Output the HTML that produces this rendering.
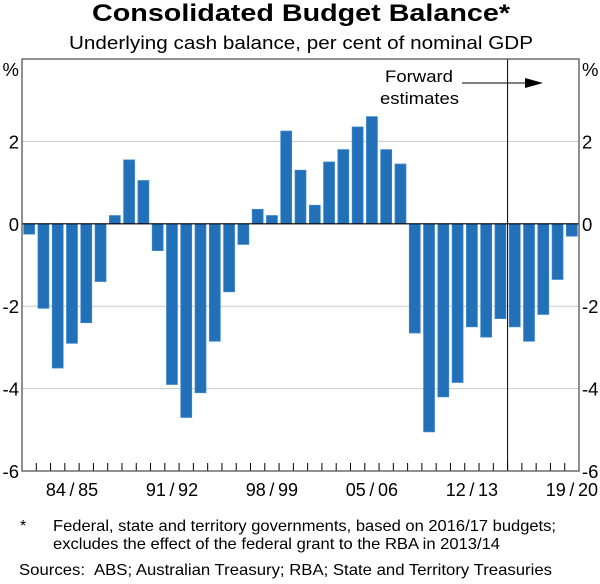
<!DOCTYPE html>
<html><head><meta charset="utf-8"><style>
body{margin:0;background:#fff;width:600px;height:579px;overflow:hidden;font-family:"Liberation Sans",Arial,sans-serif}
svg text{font-family:"Liberation Sans",Arial,sans-serif}
</style></head><body>
<svg id="chart" width="600" height="579" xmlns="http://www.w3.org/2000/svg">
<text x="92" y="21" font-size="24" font-weight="bold" textLength="418" lengthAdjust="spacingAndGlyphs">Consolidated Budget Balance*</text>
<text x="69" y="49" font-size="18.5" textLength="464" lengthAdjust="spacingAndGlyphs">Underlying cash balance, per cent of nominal GDP</text>
<g id="grid"></g><g id="bars"></g><g id="axes"></g>
<text x="385" y="82" font-size="17" textLength="68" lengthAdjust="spacingAndGlyphs">Forward</text>
<text x="380" y="104" font-size="17" textLength="79" lengthAdjust="spacingAndGlyphs">estimates</text>
<line x1="462" y1="83" x2="530" y2="83" stroke="#000" stroke-width="1"/>
<polygon points="543,83 525,78 525,88" fill="#000"/>
<text x="20" y="531" font-size="16">*</text>
<text x="53" y="531" font-size="16" textLength="503" lengthAdjust="spacingAndGlyphs">Federal, state and territory governments, based on 2016/17 budgets;</text>
<text x="53" y="549" font-size="16" textLength="447" lengthAdjust="spacingAndGlyphs">excludes the effect of the federal grant to the RBA in 2013/14</text>
<text x="19" y="575" font-size="16" textLength="66" lengthAdjust="spacingAndGlyphs">Sources:</text>
<text x="94" y="575" font-size="16" textLength="458" lengthAdjust="spacingAndGlyphs">ABS; Australian Treasury; RBA; State and Territory Treasuries</text>
</svg>
<script>
const categories=["81/82","82/83","83/84","84/85","85/86","86/87","87/88","88/89","89/90","90/91","91/92","92/93","93/94","94/95","95/96","96/97","97/98","98/99","99/00","00/01","01/02","02/03","03/04","04/05","05/06","06/07","07/08","08/09","09/10","10/11","11/12","12/13","13/14","14/15","15/16","16/17","17/18","18/19","19/20"];
const values=[-0.25,-2.05,-3.5,-2.9,-2.4,-1.4,0.2,1.55,1.05,-0.65,-3.9,-4.7,-4.1,-2.85,-1.65,-0.5,0.35,0.2,2.25,1.3,0.45,1.5,1.8,2.35,2.6,1.8,1.45,-2.65,-5.05,-4.2,-3.85,-2.5,-2.75,-2.3,-2.5,-2.85,-2.2,-1.35,-0.3];
const yTicks=[-6,-4,-2,0,2];
const xLabels=["84/85","91/92","98/99","05/06","12/13","19/20"];
const forecastStart="15/16";
const L=22,R=579,T=59,B=471,yMin=-6,yMax=4;
const NS="http://www.w3.org/2000/svg";
const step=(R-L)/categories.length;
const x=i=>L+i*step;
const y=v=>B-(v-yMin)/(yMax-yMin)*(B-T);
function mk(p,tag,a){const e=document.createElementNS(NS,tag);for(const k in a)e.setAttribute(k,a[k]);document.getElementById(p).appendChild(e);return e;}
yTicks.forEach(t=>{
  if(t!==0&&t!==yMin){const g=mk('grid','line',{x1:L,x2:R,y1:y(t),y2:y(t),stroke:'#c8c8c8','stroke-width':1});
  
  }
  const a=mk('axes','text',{x:L-3,y:y(t)+7,'text-anchor':'end','font-size':18.5});a.textContent=t;
  
  
  const b=mk('axes','text',{x:R+3,y:y(t)+7,'font-size':18.5});b.textContent=t;
  
  
});
values.forEach((v,i)=>{
  const r=mk('bars','rect',{x:x(i)+1.7,width:step-3.4,y:Math.min(y(v),y(0)),height:Math.abs(y(v)-y(0)),fill:'#2170b8',stroke:'#3a85cc','stroke-width':0.8});
  
  
});
const z=mk('axes','line',{x1:L,x2:R,y1:y(0),y2:y(0),stroke:'#000','stroke-width':1.2});


const fi=categories.indexOf(forecastStart);
const fl=mk('axes','line',{x1:x(fi),x2:x(fi),y1:T,y2:B,stroke:'#000','stroke-width':1});


for(let i=1;i<categories.length;i++){
  const t=mk('axes','line',{x1:x(i),x2:x(i),y1:B,y2:B-8,stroke:'#000','stroke-width':1});
  
  
}
xLabels.forEach(l=>{
  const i=categories.indexOf(l);
  const t=mk('axes','text',{x:x(i)+step/2,y:496,'text-anchor':'middle','font-size':18});t.textContent=l.replace('/','\u2009/\u2009');
  
  
});
const fr=mk('axes','rect',{x:L,y:T,width:R-L,height:B-T,fill:'none',stroke:'#555','stroke-width':1.3});


[[L-3,'end'],[R+3,'start']].forEach(([px,an])=>{
  const p=mk('axes','text',{x:px,y:T+17,'text-anchor':an,'font-size':18.5});p.textContent='%';
  
  
});
</script>
</body></html>
